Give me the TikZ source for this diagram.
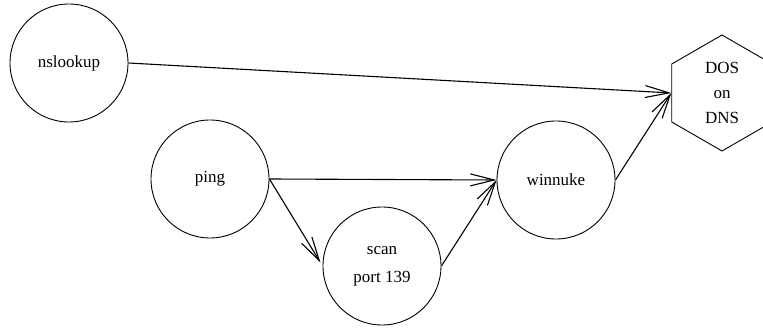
\documentclass[tikz,border=0pt]{standalone}
\usepackage{fontspec}
\setmainfont{Liberation Serif}
\usetikzlibrary{arrows.meta,shapes.geometric}
\tikzset{
  tool/.style={circle,draw=black,line width=0.9pt,minimum size=118pt,inner sep=0pt,align=center,font=\fontsize{17}{28}\selectfont},
  target/.style={regular polygon,regular polygon sides=6,shape border rotate=30,draw=black,line width=0.9pt,minimum size=116pt,inner sep=0pt,align=center,font=\fontsize{17}{25}\selectfont},
  flow/.style={-{Straight Barb[length=24pt,width=12pt]},draw=black,line width=1.1pt}
}

\begin{document}
\begin{tikzpicture}[x=1pt,y=-1pt]
\useasboundingbox (0,0) rectangle (763,328);
\clip (0,0) rectangle (763,328);
\node[tool] (nslookup) at (69,63) {nslookup};
\node[tool] (ping) at (210,179) {ping};
\node[tool] (scan) at (382,266) {scan\\port 139};
\node[tool] (winnuke) at (556,180) {winnuke};
\node[target] (dos) at (722,93) {DOS\\on\\DNS};
\draw[flow] (nslookup.east) -- (dos.west);
\draw[flow] (ping.east) -- (winnuke.west);
\draw[flow,shorten >=4pt] (ping.east) -- (scan.west);
\draw[flow] (scan.east) -- (winnuke.west);
\draw[flow] (winnuke.east) -- (dos.west);
\end{tikzpicture}
\end{document}
